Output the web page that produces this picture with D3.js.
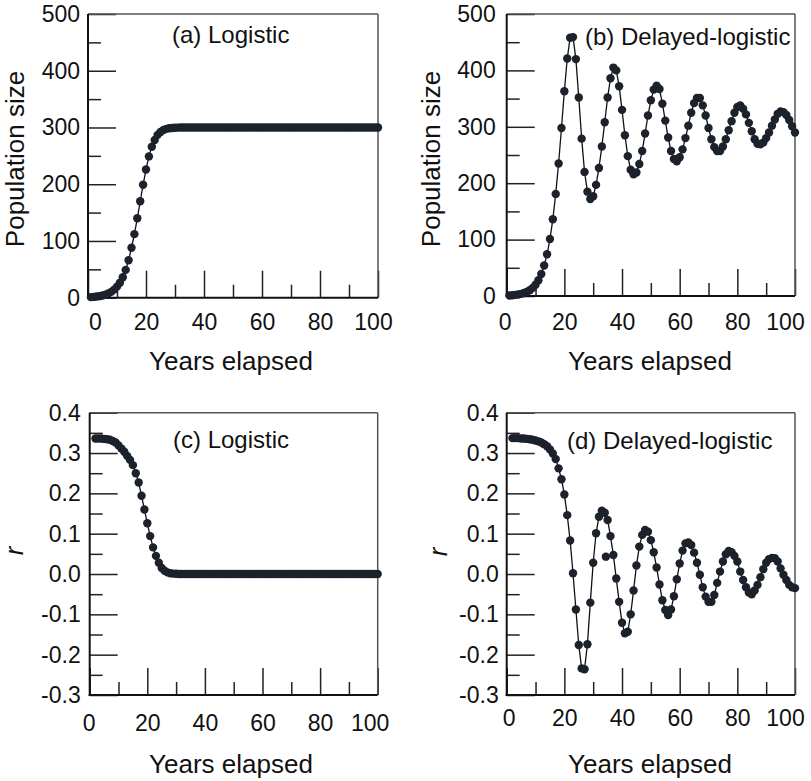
<!DOCTYPE html>
<html>
  <head>
    <title>Logistic and delayed-logistic growth</title>
    <script src="https://d3js.org/d3.v7.min.js"></script>
    <style>
      body { margin: 0; background: white; }
      svg { display: block; font-family: "Liberation Sans", Arial, sans-serif; }
    </style>
  </head>
  <body>
    <svg id="chart" width="811" height="781"></svg>
  <script>
    // years for population size (1..100) and for r (2..100)
    const years = d3.range(1, 101);
    const rYears = d3.range(2, 101);

    const xMajor = [0, 20, 40, 60, 80, 100];
    const xMinor = [10, 30, 50, 70, 90];
    const popMajor = [0, 100, 200, 300, 400, 500];
    const popMinor = [50, 150, 250, 350, 450];
    const rMajor = [-0.3, -0.2, -0.1, 0, 0.1, 0.2, 0.3, 0.4];
    const rMinor = [-0.25, -0.15, -0.05, 0.05, 0.15, 0.25, 0.35];

    const logisticN = [
      1, 1.4, 2, 2.7, 3.8, 5.3, 7.4, 10.3, 14.2, 19.5,
      26.5, 36, 49, 66, 88, 112, 140, 170, 199, 226,
      249, 266, 278, 287, 292, 295.5, 297.5, 298.6, 299.2, 299.6,
      299.8, 300, 300, 300, 300, 300, 300, 300, 300, 300,
      300, 300, 300, 300, 300, 300, 300, 300, 300, 300,
      300, 300, 300, 300, 300, 300, 300, 300, 300, 300,
      300, 300, 300, 300, 300, 300, 300, 300, 300, 300,
      300, 300, 300, 300, 300, 300, 300, 300, 300, 300,
      300, 300, 300, 300, 300, 300, 300, 300, 300, 300,
      300, 300, 300, 300, 300, 300, 300, 300, 300, 300
    ];

    const delayedN = [
      1, 1.4, 1.95, 2.7, 3.8, 5.3, 7.4, 10.3, 14.4, 20,
      28, 39, 54, 74, 101, 136, 181, 235, 298, 363,
      421, 458, 459, 420, 352, 279, 220, 185, 172, 177,
      197, 227, 265, 308, 352, 386, 405, 400, 372, 330,
      285, 248, 224, 216, 219, 234, 257, 288, 320, 347,
      366, 373, 367, 341, 311, 281, 257, 243, 239, 246,
      260, 280, 302, 325, 342, 351, 351, 338, 320, 298,
      278, 264, 257, 257, 265, 278, 294, 310, 325, 335,
      338, 332, 322, 307, 292, 278, 270, 269, 272, 280,
      290, 302, 313, 323, 327, 326, 321, 312, 301, 290
    ];

    const logisticR = [
      0.336, 0.336, 0.336, 0.335, 0.334, 0.333, 0.330, 0.326, 0.319, 0.311,
      0.303, 0.293, 0.283, 0.270, 0.250, 0.227, 0.194, 0.160, 0.126, 0.094,
      0.066, 0.045, 0.028, 0.015, 0.008, 0.004, 0.002, 0.001, 0.0005, 0,
      0, 0, 0, 0, 0, 0, 0, 0, 0, 0,
      0, 0, 0, 0, 0, 0, 0, 0, 0, 0,
      0, 0, 0, 0, 0, 0, 0, 0, 0, 0,
      0, 0, 0, 0, 0, 0, 0, 0, 0, 0,
      0, 0, 0, 0, 0, 0, 0, 0, 0, 0,
      0, 0, 0, 0, 0, 0, 0, 0, 0, 0,
      0, 0, 0, 0, 0, 0, 0, 0, 0
    ];

    const delayedR = [
      0.337, 0.337, 0.337, 0.336, 0.336, 0.335, 0.334, 0.333, 0.331, 0.329,
      0.326, 0.322, 0.317, 0.309, 0.299, 0.285, 0.262, 0.235, 0.197, 0.146,
      0.083, 0.002, -0.088, -0.176, -0.234, -0.236, -0.174, -0.071, 0.028, 0.101,
      0.142, 0.157, 0.152, 0.134, 0.094, 0.047, -0.011, -0.069, -0.121, -0.147,
      -0.143, -0.100, -0.041, 0.021, 0.068, 0.097, 0.109, 0.105, 0.084, 0.054,
      0.016, -0.026, -0.065, -0.089, -0.102, -0.088, -0.055, -0.013, 0.026, 0.058,
      0.076, 0.078, 0.072, 0.053, 0.028, -0.002, -0.033, -0.056, -0.069, -0.069,
      -0.052, -0.022, 0.006, 0.031, 0.049, 0.057, 0.054, 0.045, 0.031, 0.006,
      -0.015, -0.033, -0.046, -0.050, -0.041, -0.027, -0.008, 0.012, 0.028, 0.037,
      0.040, 0.039, 0.031, 0.014, -0.002, -0.015, -0.027, -0.033, -0.035
    ];

    // a lone dot off the line in panel (d)
    const strayYears = [34.4];
    const strayR = [0.043];

    const svg = d3.select("#chart");
    const popFmt = d => String(d);
    const rFmt = d => d.toFixed(1);

    const panels = [
      {title: "(a) Logistic", xs: years, ys: logisticN, yDomain: [0, 500], yMajor: popMajor, yMinor: popMinor, fmt: popFmt,
       left: 88, right: 378, top: 14, bottom: 297.7, yPad: 8, xPad: 15.5, zeroDx: 7, lastDx: -5,
       tx: 172, ty: 43, ylab: "Population size", italic: false, ylx: 23.5, yly: 159, xlx: 231, xly: 370},
      {title: "(b) Delayed-logistic", xs: years, ys: delayedN, yDomain: [0, 500], yMajor: popMajor, yMinor: popMinor, fmt: popFmt,
       left: 506.7, right: 795, top: 14, bottom: 296, yPad: 11, xPad: 17.5, zeroDx: -2, lastDx: -10,
       tx: 585, ty: 45, ylab: "Population size", italic: false, ylx: 440, yly: 159, xlx: 650, xly: 370},
      {title: "(c) Logistic", xs: rYears, ys: logisticR, yDomain: [-0.3, 0.4], yMajor: rMajor, yMinor: rMinor, fmt: rFmt,
       left: 89.7, right: 377.7, top: 412.7, bottom: 695, yPad: 9, xPad: 19.5, zeroDx: -1, lastDx: -8,
       tx: 173, ty: 448, ylab: "r", italic: true, ylx: 23, yly: 551, xlx: 231, xly: 773},
      {title: "(d) Delayed-logistic", xs: rYears, ys: delayedR, yDomain: [-0.3, 0.4], yMajor: rMajor, yMinor: rMinor, fmt: rFmt,
       left: 506.7, right: 795, top: 412.7, bottom: 695, yPad: 8, xPad: 14.5, zeroDx: 2, lastDx: -10,
       tx: 567, ty: 449, ylab: "r", italic: true, ylx: 446.5, yly: 552, xlx: 650, xly: 773,
       strayX: strayYears, strayY: strayR}
    ];

    function styleAxis(a) {
      a.select(".domain").remove();
      a.attr("font-size", 23).attr("font-family", null).attr("color", "#222");
      a.selectAll("line").attr("stroke-width", 1.5);
      a.selectAll("text").attr("fill", "#111");
    }

    panels.forEach(p => {
      const x = d3.scaleLinear().domain([0, 100]).range([p.left, p.right]);
      const y = d3.scaleLinear().domain(p.yDomain).range([p.bottom, p.top]);
      const g = svg.append("g");

      g.append("g").attr("transform", `translate(${p.left},0)`)
        .call(d3.axisLeft(y).tickValues(p.yMinor).tickSize(-13).tickFormat(""))
        .call(styleAxis);
      g.append("g").attr("transform", `translate(${p.left},0)`)
        .call(d3.axisLeft(y).tickValues(p.yMajor).tickSizeInner(-28).tickSizeOuter(0).tickPadding(p.yPad).tickFormat(p.fmt))
        .call(styleAxis);
      g.append("g").attr("transform", `translate(0,${p.bottom})`)
        .call(d3.axisBottom(x).tickValues(xMinor).tickSize(-13).tickFormat(""))
        .call(styleAxis);
      const xa = g.append("g").attr("transform", `translate(0,${p.bottom})`)
        .call(d3.axisBottom(x).tickValues(xMajor).tickSizeInner(-27).tickSizeOuter(0).tickPadding(p.xPad))
        .call(styleAxis);
      xa.selectAll("text").filter(d => d === 0).attr("dx", p.zeroDx);
      xa.selectAll("text").filter(d => d === 100).attr("dx", p.lastDx);

      // frame: heavier on left and bottom
      g.append("line").attr("x1", p.left).attr("x2", p.right).attr("y1", p.top).attr("y2", p.top)
        .attr("stroke", "#555").attr("stroke-width", 1.5);
      g.append("line").attr("x1", p.right).attr("x2", p.right).attr("y1", p.top).attr("y2", p.bottom)
        .attr("stroke", "#555").attr("stroke-width", 1.5);
      g.append("line").attr("x1", p.left).attr("x2", p.left).attr("y1", p.top).attr("y2", p.bottom + 1)
        .attr("stroke", "#111").attr("stroke-width", 2);
      g.append("line").attr("x1", p.left - 1).attr("x2", p.right).attr("y1", p.bottom).attr("y2", p.bottom)
        .attr("stroke", "#111").attr("stroke-width", 2);

      const pts = p.xs.map((t, i) => [t, p.ys[i]]);
      g.append("path")
        .datum(pts)
        .attr("fill", "none")
        .attr("stroke", "#111")
        .attr("stroke-width", 1.3)
        .attr("d", d3.line().x(d => x(d[0])).y(d => y(d[1])));

      g.selectAll("circle.pt")
        .data(pts)
        .enter()
        .append("circle")
        .attr("class", "pt")
        .attr("cx", d => x(d[0]))
        .attr("cy", d => y(d[1]))
        .attr("r", 4.2)
        .attr("fill", "#1b222c");

      if (p.strayX) {
        g.selectAll("circle.stray")
          .data(p.strayX.map((t, i) => [t, p.strayY[i]]))
          .enter()
          .append("circle")
          .attr("class", "stray")
          .attr("cx", d => x(d[0]))
          .attr("cy", d => y(d[1]))
          .attr("r", 4.2)
          .attr("fill", "#1b222c");
      }

      g.append("text")
        .attr("x", p.tx).attr("y", p.ty)
        .attr("font-size", 24).attr("fill", "#111")
        .text(p.title);

      g.append("text")
        .attr("transform", `translate(${p.ylx},${p.yly}) rotate(-90)`)
        .attr("text-anchor", "middle")
        .attr("font-size", 26).attr("fill", "#111")
        .style("font-style", p.italic ? "italic" : "normal")
        .text(p.ylab);

      g.append("text")
        .attr("x", p.xlx).attr("y", p.xly)
        .attr("text-anchor", "middle")
        .attr("font-size", 26).attr("fill", "#111")
        .text("Years elapsed");
    });
  </script>
  </body>
</html>
